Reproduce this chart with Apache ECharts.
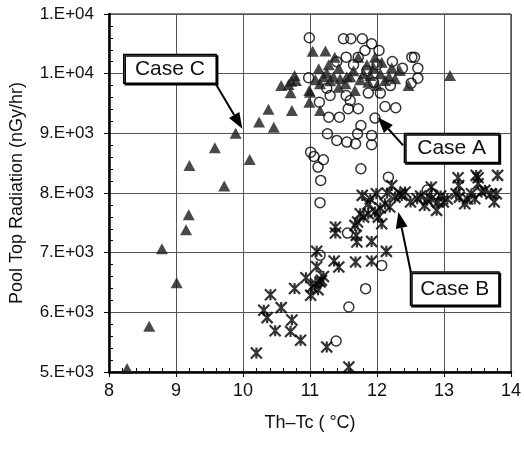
<!DOCTYPE html>
<html>
<head>
<meta charset="utf-8">
<script src="https://cdn.jsdelivr.net/npm/echarts@6/dist/echarts.min.js"></script>
<style>
  html, body { margin: 0; padding: 0; background: #fff; }
  #chart { width: 524px; height: 453px; }
</style>
</head>
<body>
<div id="chart"></div>
<script>
// Case C (triangles): [Th-Tc, radiation]
const caseC = [
  [8.27, 5057], [8.60, 5766], [8.79, 7067], [9.01, 6497], [9.15, 7385], [9.19, 7637],
  [9.20, 8462], [9.58, 8759], [9.72, 8116], [9.89, 9003], [10.10, 8563], [10.24, 9190],
  [10.38, 9405], [10.46, 9100], [10.57, 9802], [10.71, 9680], [10.73, 9384], [10.72, 9874],
  [10.77, 9970], [10.79, 9886], [10.99, 9523], [10.99, 9718], [11.04, 10375], [11.23, 10380],
  [11.37, 10277], [11.13, 10082], [11.15, 9831], [11.15, 9384], [11.00, 9690], [11.43, 10090],
  [11.45, 9915], [11.43, 9774], [11.53, 9831], [11.67, 9718], [11.72, 10277], [11.97, 10277],
  [12.07, 10193], [12.34, 10054], [12.27, 9915], [12.47, 9802], [13.09, 9970], [11.90, 9970],
  [11.87, 9858], [12.12, 9886], [11.20, 9950], [11.25, 10010], [11.30, 9880], [11.35, 9950],
  [11.08, 9900], [11.28, 10150], [11.60, 9950], [11.65, 10050], [11.75, 9900], [11.80, 10000],
  [11.85, 10150], [12.00, 9800], [12.05, 10000], [12.18, 9950], [11.95, 10100], [12.22, 10100],
  [11.55, 9950], [10.68, 9820]
];

// Case A (open circles)
const caseA = [
  [10.99, 10601], [11.50, 10585], [11.61, 10585], [11.78, 10585], [11.92, 10501], [11.82, 10389],
  [12.03, 10389], [11.54, 10277], [11.72, 10277], [12.23, 10204], [12.38, 10092], [12.52, 10277],
  [12.56, 10277], [12.61, 10092], [12.61, 9925], [12.51, 9841], [10.98, 9931], [11.25, 9757],
  [11.30, 9635], [11.14, 9523], [11.54, 9635], [11.60, 9551], [11.87, 9674], [12.05, 9674],
  [12.12, 9450], [12.28, 9429], [11.57, 9412], [11.72, 9412], [11.28, 9271], [11.44, 9271],
  [11.97, 9255], [11.76, 9132], [11.71, 8993], [11.26, 8993], [11.40, 8881], [11.55, 8853],
  [11.68, 8826], [11.92, 8965], [11.92, 8809], [11.01, 8685], [11.06, 8613], [11.20, 8557],
  [11.12, 8434], [11.16, 8211], [11.76, 8407], [12.17, 8266], [11.15, 7838], [11.56, 7328],
  [12.07, 6787], [11.83, 6397], [11.58, 6089], [11.39, 5519], [11.15, 6955], [12.75, 8050],
  [12.85, 7980], [11.85, 10050], [11.65, 10150], [12.00, 10150], [11.40, 10200], [12.20, 9800],
  [11.95, 9850]
];

// Case B (asterisks)
const caseB = [
  [10.20, 5320], [10.48, 5690], [10.36, 5911], [10.31, 6034], [10.57, 6079], [10.41, 6296],
  [10.71, 5680], [10.73, 5870], [10.86, 5531], [10.77, 6400], [10.94, 6581], [11.10, 6765],
  [11.10, 7025], [11.01, 6285], [11.03, 6424], [11.15, 6508], [11.25, 5419], [11.17, 6536],
  [11.36, 6859], [11.43, 6759], [11.38, 7429], [11.38, 7328], [11.68, 6843], [11.70, 7178],
  [11.69, 7290], [11.92, 7189], [11.92, 6859], [12.14, 7022], [11.58, 5084], [11.71, 7513],
  [11.75, 7653], [11.78, 7960], [11.87, 7821], [11.99, 7988], [11.97, 7680], [12.07, 7486],
  [12.12, 7821], [12.22, 8127], [12.19, 7764], [12.27, 7931], [12.37, 7960], [11.80, 7596],
  [11.67, 7457], [11.87, 7653], [12.02, 7596], [12.60, 7904], [12.71, 7792], [12.81, 7904],
  [12.89, 7709], [12.91, 7848], [12.99, 7848], [13.21, 8256], [13.23, 7931], [13.31, 7821],
  [13.46, 7904], [13.51, 8256], [13.61, 8044], [13.70, 7988], [13.75, 7848], [13.80, 8295],
  [13.22, 8127], [13.48, 8295], [13.51, 8155], [13.78, 7988], [12.81, 8099], [13.18, 7988],
  [13.41, 7988], [13.56, 8016], [12.34, 7988], [12.42, 8016], [12.65, 7950], [12.75, 7880],
  [12.95, 7950], [13.05, 7900], [13.35, 7900], [12.50, 7850], [11.08, 6480], [11.12, 6380],
  [11.20, 6600], [11.90, 7900], [12.05, 7750], [12.15, 8000]
];

const xRange = [8, 14];
const yRange = [5000, 11000];

// callout boxes and arrows, in data units
const callouts = [
  { text: 'Case C', box: [8.22, 10322, 9.60, 9841], from: [9.57, 9874], to: [9.99, 9077] },
  { text: 'Case A', box: [12.41, 8998, 13.82, 8513], from: [12.39, 8798], to: [12.01, 9271] },
  { text: 'Case B', box: [12.50, 6675, 13.82, 6117], from: [12.505, 6675], to: [12.32, 7680] }
];

const fontFamily = '"Liberation Sans", Arial, sans-serif';
const starPath = 'path://M0,0L10,10M10,0L0,10M5,0L5,10';

const chart = echarts.init(document.getElementById('chart'));

function sciLabel(v) {
  const parts = v.toExponential(0).split('e');
  const exp = parseInt(parts[1], 10);
  return parts[0] + '.E' + (exp < 0 ? '-' : '+') + String(Math.abs(exp)).padStart(2, '0');
}

chart.setOption({
  animation: false,
  grid: {
    left: 109, right: 12, top: 14, bottom: 81,
    show: true, borderColor: '#000', borderWidth: 1
  },
  xAxis: [
    {
      type: 'value', min: xRange[0], max: xRange[1], interval: 1,
      name: 'Th\u2013Tc ( \u00B0C)', nameLocation: 'middle', nameGap: 42,
      nameTextStyle: { fontFamily: fontFamily, fontSize: 18, color: '#111' },
      axisLine: { lineStyle: { color: '#000', width: 2.5 } },
      axisTick: { length: 5, lineStyle: { color: '#000' } },
      axisLabel: { fontFamily: fontFamily, fontSize: 18, color: '#111', margin: 10 },
      splitLine: { lineStyle: { color: '#555', width: 1 } }
    },
    {
      type: 'value', min: xRange[0], max: xRange[1], interval: 1, position: 'bottom',
      axisLine: { show: false },
      axisTick: { show: false, inside: true },
      minorTick: { show: true, splitNumber: 5, length: 4, lineStyle: { color: '#000' } },
      axisLabel: { show: false },
      splitLine: { show: false }
    }
  ],
  yAxis: [
    {
      type: 'value', min: yRange[0], max: yRange[1], interval: 1000,
      name: 'Pool Top Radiation (nGy/hr)', nameLocation: 'middle', nameGap: 83,
      nameTextStyle: { fontFamily: fontFamily, fontSize: 18, color: '#111' },
      axisLine: { lineStyle: { color: '#000', width: 2.5 } },
      axisTick: { length: 5, lineStyle: { color: '#000' } },
      axisLabel: { fontFamily: fontFamily, fontSize: 17, color: '#111', margin: 15, formatter: sciLabel },
      splitLine: { lineStyle: { color: '#555', width: 1 } }
    },
    {
      type: 'value', min: yRange[0], max: yRange[1], interval: 1000, position: 'left',
      axisLine: { show: false },
      axisTick: { show: false, inside: true },
      minorTick: { show: true, splitNumber: 5, length: 4, lineStyle: { color: '#000' } },
      axisLabel: { show: false },
      splitLine: { show: false }
    }
  ],
  series: [
    {
      name: 'Case A', type: 'scatter', data: caseA,
      symbol: 'circle', symbolSize: 10,
      itemStyle: { color: 'rgba(0,0,0,0)', borderColor: '#000', borderWidth: 1.5 }
    },
    {
      name: 'Case B', type: 'scatter', data: caseB,
      symbol: starPath, symbolSize: 11,
      itemStyle: { color: 'none', borderColor: '#000', borderWidth: 2.2 }
    },
    {
      name: 'Case C', type: 'scatter', data: caseC,
      symbol: 'triangle', symbolSize: [12, 11],
      itemStyle: { color: '#1c1c1c' }
    }
  ]
});

// callouts drawn on top, positioned from data coordinates
const graphics = [];
callouts.forEach(function (c) {
  const p1 = chart.convertToPixel({ gridIndex: 0 }, [c.box[0], c.box[1]]);
  const p2 = chart.convertToPixel({ gridIndex: 0 }, [c.box[2], c.box[3]]);
  const a = chart.convertToPixel({ gridIndex: 0 }, c.from);
  const b = chart.convertToPixel({ gridIndex: 0 }, c.to);
  const dx = b[0] - a[0], dy = b[1] - a[1];
  const len = Math.sqrt(dx * dx + dy * dy);
  const ux = dx / len, uy = dy / len;
  const head = 16, half = 6;
  const bx = b[0] - ux * head, by = b[1] - uy * head;
  graphics.push({
    type: 'line', z: 100,
    shape: { x1: a[0], y1: a[1], x2: bx, y2: by },
    style: { stroke: '#000', lineWidth: 2 }
  });
  graphics.push({
    type: 'polygon', z: 100,
    shape: { points: [[b[0], b[1]], [bx - uy * half, by + ux * half], [bx + uy * half, by - ux * half]] },
    style: { fill: '#000' }
  });
  graphics.push({
    type: 'rect', z: 101,
    shape: { x: p1[0], y: p1[1], width: p2[0] - p1[0], height: p2[1] - p1[1] },
    style: { fill: '#fff', stroke: '#000', lineWidth: 1.5, shadowColor: '#000', shadowOffsetX: 1.5, shadowOffsetY: 1.5 }
  });
  graphics.push({
    type: 'text', z: 102,
    x: (p1[0] + p2[0]) / 2, y: (p1[1] + p2[1]) / 2,
    style: { text: c.text, font: '21px ' + fontFamily, fill: '#111', align: 'center', verticalAlign: 'middle' }
  });
});
chart.setOption({ graphic: graphics });
</script>
</body>
</html>
